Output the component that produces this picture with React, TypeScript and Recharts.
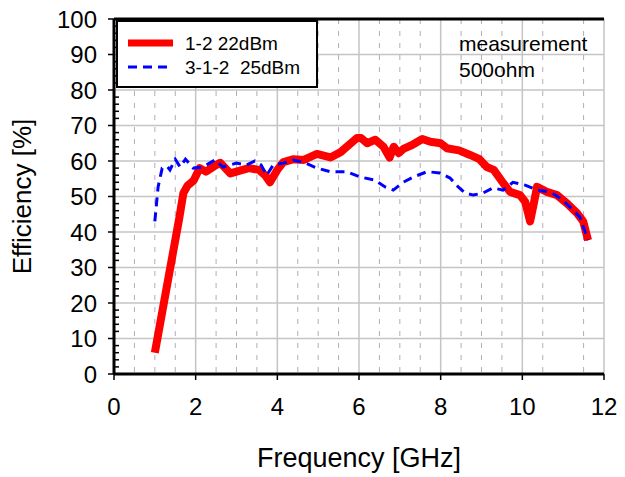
import React from "react";
import {
  LineChart,
  Line,
  XAxis,
  YAxis,
  CartesianGrid,
  ReferenceLine,
  Label,
} from "recharts";

// 1-2 22dBm (red, thick)
const redFreq = [
  1.0, 1.3, 1.6, 1.7, 1.8, 1.95, 2.1, 2.25, 2.45, 2.6, 2.85, 3.0, 3.3, 3.55,
  3.7, 3.82, 4.0, 4.15, 4.4, 4.65, 4.97, 5.3, 5.55, 5.8, 5.95, 6.05, 6.2, 6.4,
  6.6, 6.75, 6.85, 6.97, 7.1, 7.3, 7.55, 7.75, 8.0, 8.15, 8.45, 8.72, 8.95,
  9.13, 9.3, 9.53, 9.7, 9.94, 10.07, 10.19, 10.28, 10.36, 10.6, 10.85, 11.1,
  11.34, 11.49, 11.61,
];
const redEff = [
  6, 25, 44, 51, 53, 54.5, 58, 57, 58.5, 59.5, 56.5, 57, 58, 57.5, 56, 54,
  57.5, 59.7, 60.5, 60.3, 62, 61, 62.5, 65, 66.5, 66.5, 65, 66, 64, 61, 64,
  62.2, 63.5, 64.5, 66.2, 65.4, 65, 63.6, 63, 61.7, 60.5, 58.3, 57.5, 53.8,
  51.3, 50.4, 48.5, 43, 48, 52.7, 51.3, 50.4, 48, 45.3, 43, 37.7,
];

// 3-1-2 25dBm (blue, dashed)
const blueFreq = [
  1.0, 1.08, 1.18, 1.3, 1.37, 1.5, 1.62, 1.75, 1.94, 2.18, 2.47, 2.67, 3.0,
  3.25, 3.45, 3.6, 3.74, 3.9, 4.15, 4.38, 4.63, 4.97, 5.29, 5.7, 6.03, 6.39,
  6.64, 6.84, 7.08, 7.33, 7.67, 7.98, 8.23, 8.43, 8.6, 8.8, 9.04, 9.28, 9.53,
  9.77, 10.07, 10.36, 10.68, 10.92, 11.17, 11.41, 11.61,
];
const blueEff = [
  43, 52.7, 58, 58.5, 57.5, 60.5, 58.3, 60.5, 58, 58.3, 60.3, 58.3, 59.4,
  58.9, 60, 58.9, 56, 58.9, 59.4, 60.3, 59.7, 58, 57, 57, 55.5, 54.6, 52.7,
  51.8, 54, 55.5, 57, 56.6, 55.2, 52.7, 51, 50.4, 51, 52.4, 51.8, 54, 53.2,
  51.8, 51.3, 49.6, 47, 44.2, 37.7,
];

const xTicks = [0, 2, 4, 6, 8, 10, 12];
const xMinor = [
  0.5, 1, 1.5, 2.5, 3, 3.5, 4.5, 5, 5.5, 6.5, 7, 7.5, 8.5, 9, 9.5, 10.5, 11,
  11.5,
];
const yMajor = [0, 10, 20, 30, 40, 50, 60, 70, 80, 90, 100];
const yTicks = Array.from({ length: 51 }, (_, i) => i * 2);

const redData = redFreq.map((f, i) => ({ f, eff: redEff[i] }));
const blueData = blueFreq.map((f, i) => ({ f, eff: blueEff[i] }));

const FONT = "'Liberation Sans', Arial, sans-serif";

const LeftTick = (props: any) => {
  const { x, y, payload } = props;
  const v = payload.value;
  if (v % 10 === 0) {
    return (
      <g>
        <line x1={x - 6} x2={x} y1={y} y2={y} stroke="#000" strokeWidth={1.5} />
        <text
          x={x - 17}
          y={y}
          dy="0.36em"
          textAnchor="end"
          fontSize={24}
          fontFamily={FONT}
          fill="#000"
        >
          {v}
        </text>
      </g>
    );
  }
  return <line x1={x} x2={x + 5} y1={y} y2={y} stroke="#000" strokeWidth={1.5} />;
};

const RightTick = (props: any) => {
  const { x, y } = props;
  return <line x1={x - 5} x2={x} y1={y} y2={y} stroke="#000" strokeWidth={1.5} />;
};

export default function App() {
  return (
    <div style={{ position: "absolute", left: 0, top: 0, width: 625, height: 477, background: "#fff" }}>
      <LineChart
        width={625}
        height={477}
        margin={{ top: 19, right: 21, left: 0, bottom: 0 }}
        style={{ fontFamily: FONT }}
      >
        <CartesianGrid
          stroke="#b4aabd"
          strokeDasharray="5 7"
          horizontal={false}
          verticalValues={xMinor}
        />
        <CartesianGrid
          stroke="#c4c4c4"
          strokeWidth={1.5}
          verticalValues={xTicks}
          horizontalValues={yMajor}
        />
        <XAxis
          dataKey="f"
          type="number"
          domain={[0, 12]}
          ticks={xTicks}
          allowDataOverflow
          height={103}
          tickSize={6}
          tickMargin={18}
          axisLine={{ stroke: "#000", strokeWidth: 3 }}
          tickLine={{ stroke: "#000", strokeWidth: 1.5 }}
          tick={{ fontSize: 24, fill: "#000", fontFamily: FONT }}
        >
          <Label
            value="Frequency [GHz]"
            position="insideBottom"
            offset={10}
            fontSize={27}
            fill="#000"
            fontFamily={FONT}
          />
        </XAxis>
        <YAxis
          type="number"
          domain={[0, 100]}
          ticks={yTicks}
          interval={0}
          width={114}
          tickSize={0}
          tickMargin={0}
          tickLine={false}
          axisLine={{ stroke: "#000", strokeWidth: 3 }}
          tick={<LeftTick />}
        >
          <Label
            value="Efficiency [%]"
            position="insideLeft"
            angle={-90}
            offset={22}
            fontSize={26}
            fill="#000"
            fontFamily={FONT}
            style={{ textAnchor: "middle" }}
          />
        </YAxis>
        <YAxis
          yAxisId="right"
          orientation="right"
          type="number"
          domain={[0, 100]}
          ticks={yTicks}
          interval={0}
          width={0}
          tickSize={0}
          tickMargin={0}
          tickLine={false}
          axisLine={{ stroke: "#000", strokeWidth: 3 }}
          tick={<RightTick />}
        />
        <ReferenceLine y={100} stroke="#000" strokeWidth={3} />
        <Line
          data={redData}
          dataKey="eff"
          type="linear"
          stroke="#ff0000"
          strokeWidth={8}
          strokeLinejoin="round"
          dot={false}
          isAnimationActive={false}
        />
        <Line
          data={blueData}
          dataKey="eff"
          type="linear"
          stroke="#0000ff"
          strokeWidth={3}
          strokeDasharray="9 6"
          dot={false}
          isAnimationActive={false}
        />
      </LineChart>
      <svg
        width={625}
        height={477}
        style={{ position: "absolute", left: 0, top: 0, pointerEvents: "none" }}
        fontFamily={FONT}
      >
        <rect x={117} y={21} width={200} height={66} fill="#fff" stroke="#000" strokeWidth={2} />
        <line x1={128} x2={173} y1={43} y2={43} stroke="#ff0000" strokeWidth={7} />
        <text x={185} y={43} dy="0.36em" fontSize={19} fill="#000">1-2 22dBm</text>
        <line x1={128} x2={173} y1={67} y2={67} stroke="#0000ff" strokeWidth={3} strokeDasharray="9 6" />
        <text x={185} y={67} dy="0.36em" fontSize={19} fill="#000" style={{ whiteSpace: "pre" }}>
          3-1-2  25dBm
        </text>
        <text x={459} y={51} fontSize={21} fill="#000">measurement</text>
        <text x={459} y={77} fontSize={21} fill="#000">500ohm</text>
      </svg>
    </div>
  );
}
